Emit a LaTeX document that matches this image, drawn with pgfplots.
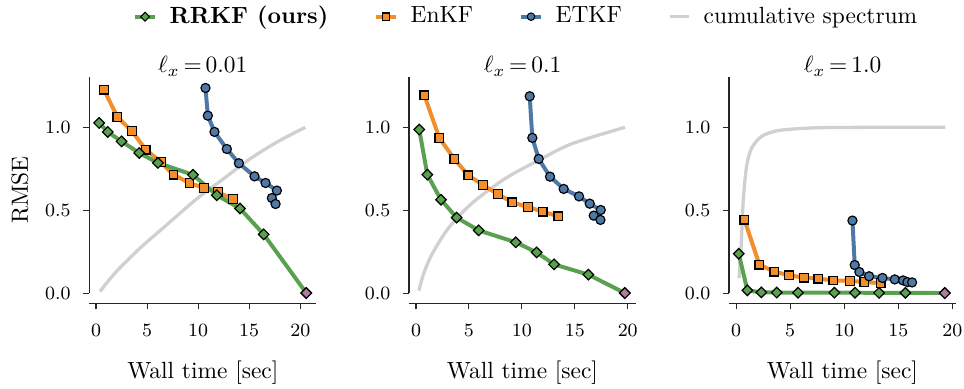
\documentclass[border=0pt]{standalone}
\usepackage{pgfplots}
\pgfplotsset{compat=1.18}
\definecolor{cgreen}{HTML}{59A14F}
\definecolor{corange}{HTML}{F28E2B}
\definecolor{cblue}{HTML}{4E79A7}
\definecolor{cpink}{HTML}{B07AA1}
\definecolor{cgray}{RGB}{208,208,208}
\tikzset{
  rrkf/.style={color=cgreen, line width=1.7pt, mark=square*, mark size=1.6pt, mark options={rotate=45, fill=cgreen, draw=black, line width=0.5pt, solid}},
  enkf/.style={color=corange, line width=1.7pt, mark=square*, mark size=1.85pt, mark options={fill=corange, draw=black, line width=0.5pt, solid}},
  etkf/.style={color=cblue, line width=1.7pt, mark=*, mark size=1.95pt, mark options={fill=cblue, draw=black, line width=0.5pt, solid}},
  spec/.style={color=cgray, line width=1.4pt, smooth},
  pinkmark/.style={only marks, mark=square*, mark size=1.6pt, mark options={rotate=45, fill=cpink, draw=black, line width=0.5pt}},
  spine/.style={black!85, line width=0.45pt},
}
\pgfplotsset{
  panel/.style={
    scale only axis, width=96.93pt, height=96.76pt, anchor=north west,
    ymin=-0.062, ymax=1.305, clip=false,
    axis lines=left, axis line style={draw=none},
    tick align=outside, major tick length=2.5pt,
    tick style={black!85, line width=0.45pt},
    ytick={0,0.5,1}, xtick={0,5,10,15,20}, minor tick num=0,
    scaled ticks=false,
    yticklabel style={/pgf/number format/fixed, /pgf/number format/fixed zerofill, /pgf/number format/precision=1, anchor=east, xshift=-5.3pt},
    tick label style={font=\fontsize{8}{9.6}\selectfont, inner sep=0pt},
    xticklabel style={anchor=base, yshift=-11.76pt},
    title style={at={(0.5,1)}, anchor=base, yshift=-4.4pt, font=\fontsize{10}{12}\selectfont},
    xlabel style={at={(0.5,0)}, anchor=base, yshift=-32pt, font=\fontsize{10}{12}\selectfont},
    ylabel style={font=\fontsize{10}{12}\selectfont},
    xlabel={Wall time [sec]},
  }
}
\begin{document}
\begin{tikzpicture}
\useasboundingbox (0,0) rectangle (411.63pt,-166.1pt);
% ---------- Panel 1 ----------
\begin{axis}[panel, at={(38.13pt,-32.75pt)}, xmin=-0.657, xmax=21.57,
  title={$\ell_x\mkern-2mu=\mkern-2mu0.01$},
  ylabel={RMSE}, ylabel style={at={(axis description cs:0,0.5)}, anchor=center, yshift=29.6pt},
  legend columns=4, legend cell align=left,
  legend style={at={(0.1912,1.265)}, anchor=west, draw=none, fill=none, inner sep=0pt,
    font=\fontsize{10}{12}\selectfont, nodes={inner sep=0pt}, column sep=0pt},
  legend image code/.code={\draw[mark repeat=2,mark phase=2,#1] plot coordinates {(0pt,0pt)(4.25pt,0pt)(8.5pt,0pt)};},
]
\addlegendimage{rrkf, mark size=1.35pt, mark options={rotate=45, fill=cgreen, draw=black, line width=0.45pt, solid}}
\addlegendentry{\hspace*{5.4pt}\textbf{RRKF (ours)}\hspace*{19.6pt}}
\addlegendimage{enkf, mark size=1.55pt, mark options={fill=corange, draw=black, line width=0.45pt, solid}}
\addlegendentry{\hspace*{5.4pt}EnKF\hspace*{19.6pt}}
\addlegendimage{etkf, mark size=1.6pt, mark options={fill=cblue, draw=black, line width=0.45pt, solid}}
\addlegendentry{\hspace*{5.4pt}ETKF\hspace*{19.6pt}}
\addlegendimage{spec, no marks}
\addlegendentry{\hspace*{5.4pt}cumulative spectrum}
\addplot[spec, forget plot] coordinates {(0.39,0.01)(2.0,0.13)(4.3,0.27)(6.9,0.41)(9.9,0.57)(12.5,0.69)(15.1,0.81)(17.7,0.91)(20.5,1.0)};
\addplot[enkf, forget plot] coordinates {(0.78,1.227)(2.09,1.062)(3.53,0.976)(4.87,0.865)(6.34,0.791)(7.58,0.714)(9.15,0.664)(10.56,0.634)(11.96,0.608)(13.40,0.567)};
\addplot[etkf, forget plot] coordinates {(10.72,1.237)(10.95,1.070)(11.60,0.972)(12.81,0.869)(13.99,0.783)(15.52,0.704)(16.60,0.664)(17.71,0.618)(17.22,0.573)(17.58,0.537)};
\addplot[rrkf, forget plot] coordinates {(0.31,1.026)(1.15,0.972)(2.50,0.915)(4.23,0.845)(6.06,0.785)(9.50,0.713)(11.83,0.590)(14.10,0.510)(16.42,0.354)(20.59,0.0)};
\addplot[pinkmark, forget plot] coordinates {(20.59,0.0)};
\draw[spine] (axis cs:-0.657,0) -- (axis cs:-0.657,1.305);
\draw[spine] (axis cs:-0.657,-0.062) -- (axis cs:21.57,-0.062);
\end{axis}
% ---------- Panel 2 ----------
\begin{axis}[panel, at={(174.64pt,-32.75pt)}, xmin=-0.66, xmax=20.78,
  title={$\ell_x\mkern-2mu=\mkern-2mu0.1$}]
\addplot[spec] coordinates {(0.28,0.014)(0.69,0.11)(1.48,0.23)(3.05,0.39)(5.26,0.54)(8.41,0.69)(11.56,0.80)(14.7,0.90)(19.75,1.0)};
\addplot[enkf] coordinates {(0.79,1.193)(2.20,0.936)(3.62,0.809)(4.94,0.710)(6.33,0.652)(7.75,0.596)(9.10,0.547)(10.58,0.519)(11.97,0.491)(13.45,0.463)};
\addplot[etkf] coordinates {(10.74,1.187)(10.99,0.936)(11.59,0.809)(12.66,0.702)(13.95,0.628)(15.40,0.583)(16.41,0.539)(17.45,0.501)(16.79,0.467)(17.42,0.441)};
\addplot[rrkf] coordinates {(0.31,0.986)(1.07,0.714)(2.36,0.563)(3.84,0.455)(5.92,0.378)(9.42,0.306)(11.40,0.245)(13.04,0.173)(16.28,0.111)(19.72,0.0)};
\addplot[pinkmark] coordinates {(19.72,0.0)};
\draw[spine] (axis cs:-0.66,0) -- (axis cs:-0.66,1.305);
\draw[spine] (axis cs:-0.66,-0.062) -- (axis cs:20.78,-0.062);
\end{axis}
% ---------- Panel 3 ----------
\begin{axis}[panel, at={(311.28pt,-32.75pt)}, xmin=-0.65, xmax=20.33,
  title={$\ell_x\mkern-2mu=\mkern-2mu1.0$}]
\addplot[spec] coordinates {(0.28,0.09)(0.46,0.27)(0.68,0.57)(0.99,0.77)(1.45,0.875)(2.37,0.945)(3.9,0.98)(6.7,0.995)(10.0,0.999)(19.35,1.0)};
\addplot[enkf] coordinates {(0.77,0.443)(2.16,0.171)(3.54,0.129)(4.90,0.107)(6.26,0.093)(7.61,0.087)(9.00,0.076)(10.51,0.074)(11.86,0.066)(13.37,0.060)};
\addplot[etkf] coordinates {(10.76,0.437)(10.97,0.169)(11.40,0.127)(12.30,0.101)(13.53,0.091)(14.67,0.082)(15.44,0.076)(15.84,0.066)(16.27,0.064)};
\addplot[rrkf] coordinates {(0.25,0.237)(1.05,0.016)(2.34,0.004)(3.76,0.003)(5.73,0.002)(9.09,0.002)(11.00,0.002)(13.22,0.001)(15.65,0.001)(19.29,0.0)};
\addplot[pinkmark] coordinates {(19.29,0.0)};
\draw[spine] (axis cs:-0.65,0) -- (axis cs:-0.65,1.305);
\draw[spine] (axis cs:-0.65,-0.062) -- (axis cs:20.33,-0.062);
\end{axis}
\end{tikzpicture}
\end{document}
